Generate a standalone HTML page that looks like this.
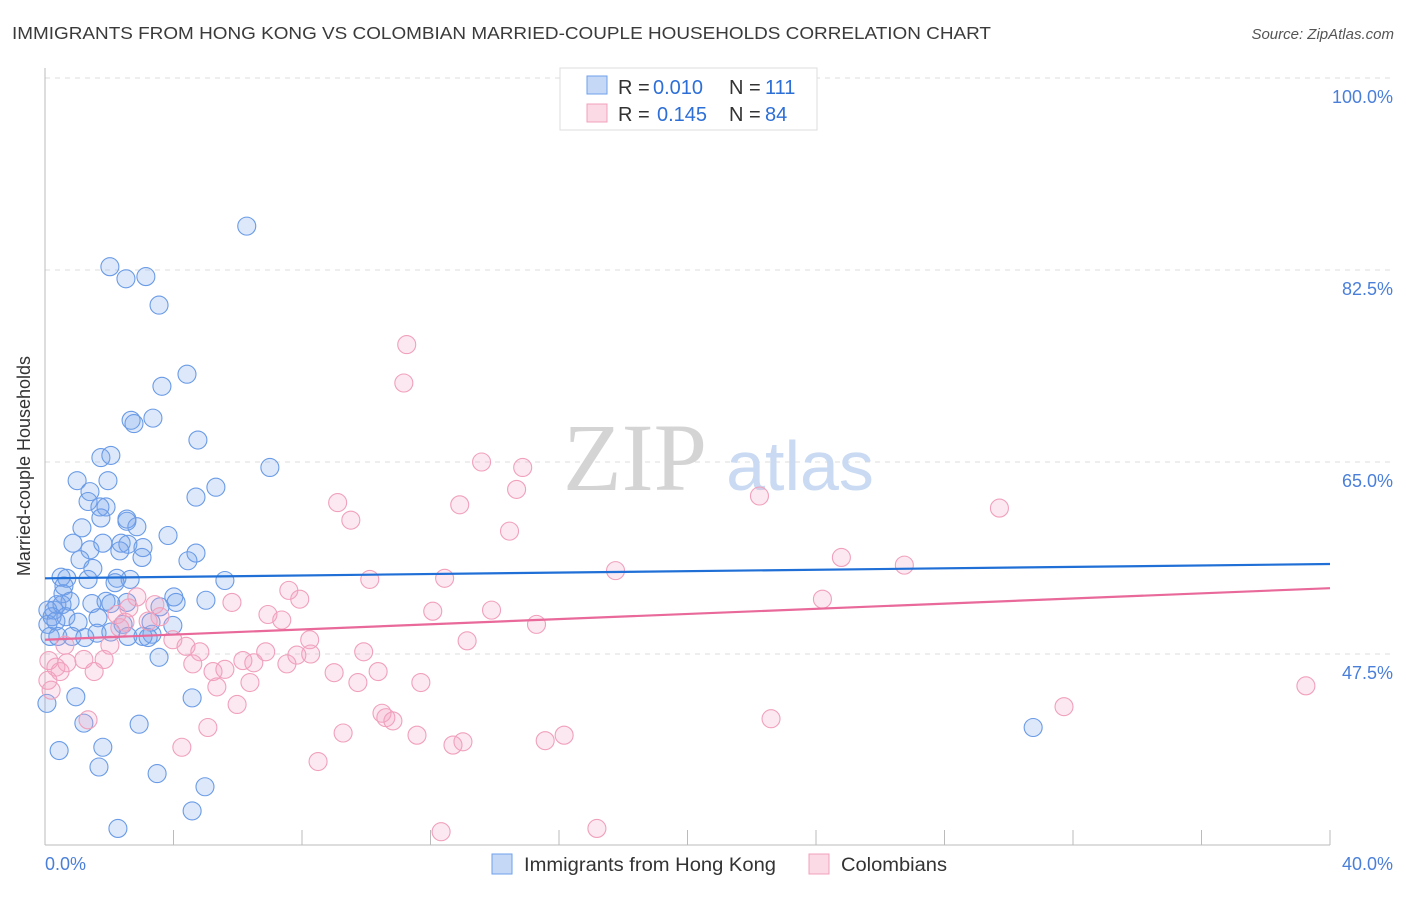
<!DOCTYPE html>
<html><head><meta charset="utf-8"><style>
body{margin:0;background:#fff;font-family:"Liberation Sans",sans-serif;}
</style></head><body>
<svg id="chart" width="1406" height="892" xmlns="http://www.w3.org/2000/svg" style="font-family:'Liberation Sans',sans-serif">
<text x="12" y="39" font-size="17.5" fill="#3a3a3a" textLength="979" lengthAdjust="spacingAndGlyphs">IMMIGRANTS FROM HONG KONG VS COLOMBIAN MARRIED-COUPLE HOUSEHOLDS CORRELATION CHART</text>
<text x="1394" y="39" font-size="15" fill="#555" font-style="italic" text-anchor="end">Source: ZipAtlas.com</text>
<g id="grid"></g>
<g>
<text x="635" y="490" font-size="96" fill="#d4d4d4" font-family="Liberation Serif,serif" text-anchor="middle">ZIP</text>
<text x="800" y="490" font-size="70" fill="#c9daf2" text-anchor="middle">atlas</text>
</g>
<line x1="45" y1="68" x2="45" y2="845" stroke="#bbb"/>
<line x1="45" y1="845" x2="1330" y2="845" stroke="#bbb"/>
<g id="ticks"></g>
<g id="pts"></g>
<g id="lines"></g>
<text x="22" y="458" font-size="18" fill="#333" text-anchor="middle" transform="rotate(-90 30 458)">Married-couple Households</text>
<text x="45" y="870" font-size="18" fill="#4a7fd9">0.0%</text>
<text x="1393" y="870" font-size="18" fill="#4a7fd9" text-anchor="end">40.0%</text>
<g>
<rect x="560" y="68" width="257" height="62" fill="#fff" stroke="#ddd"/>
<rect x="587" y="76" width="20" height="18" fill="rgba(110,160,235,0.4)" stroke="#6e9fe8"/>
<rect x="587" y="104" width="20" height="18" fill="rgba(245,160,190,0.4)" stroke="#f0a0bc"/>
<text x="618" y="94" font-size="20" fill="#333">R =</text>
<text x="653" y="94" font-size="20" fill="#2d6fd6">0.010</text>
<text x="729" y="94" font-size="20" fill="#333">N =</text>
<text x="765" y="94" font-size="20" fill="#2d6fd6">111</text>
<text x="618" y="121" font-size="20" fill="#333">R =</text>
<text x="657" y="121" font-size="20" fill="#2d6fd6">0.145</text>
<text x="729" y="121" font-size="20" fill="#333">N =</text>
<text x="765" y="121" font-size="20" fill="#2d6fd6">84</text>
</g>
<g>
<rect x="492" y="854" width="20" height="20" fill="rgba(110,160,235,0.4)" stroke="#6e9fe8"/>
<text x="524" y="871" font-size="19" fill="#333" textLength="252" lengthAdjust="spacingAndGlyphs">Immigrants from Hong Kong</text>
<rect x="809" y="854" width="20" height="20" fill="rgba(245,160,190,0.4)" stroke="#f0a0bc"/>
<text x="841" y="871" font-size="19" fill="#333" textLength="106" lengthAdjust="spacingAndGlyphs">Colombians</text>
</g>
</svg>
<script>
const yTicks=[100,82.5,65,47.5];
const yTickLabels=["100.0%","82.5%","65.0%","47.5%"];
const xTicks=[0,4,8,12,16,20,24,28,32,36,40];
const blueX=[6.28,2.02,2.52,3.14,3.55,4.42,3.64,2.68,2.77,3.36,4.76,7.00,1.74,2.05,1.00,1.96,1.40,1.34,1.90,1.71,4.70,5.32,1.15,1.74,2.55,2.86,3.83,0.87,1.40,1.80,2.37,2.58,3.05,3.02,4.70,4.45,1.09,1.49,0.68,0.50,1.34,2.24,2.65,5.60,2.18,0.56,0.59,0.78,1.46,1.90,2.05,2.55,4.01,4.08,5.01,0.28,0.37,0.53,0.09,0.22,0.65,1.03,1.65,2.43,3.30,3.98,0.09,0.34,0.16,0.40,0.84,1.24,1.62,2.05,2.58,3.05,3.33,3.21,3.55,4.58,0.96,1.21,2.93,0.44,1.80,1.68,3.49,4.98,4.58,2.27,0.06,30.76,2.55,3.58,2.33];
const blueY=[86.5,82.8,81.7,81.9,79.3,73.0,71.9,68.8,68.5,69.0,67.0,64.5,65.4,65.6,63.3,63.3,62.3,61.4,60.9,60.9,61.8,62.7,59.0,59.9,59.8,59.1,58.3,57.6,57.0,57.6,57.6,57.5,57.2,56.3,56.7,56.0,56.1,55.3,54.4,54.5,54.3,54.4,54.3,54.2,54.0,53.0,53.7,52.3,52.1,52.3,52.1,52.2,52.7,52.2,52.4,51.5,52.0,52.0,51.5,50.9,50.9,50.4,50.8,50.2,50.4,50.1,50.2,50.5,49.1,49.1,49.1,49.0,49.4,49.5,49.1,49.1,49.3,49.0,47.2,43.5,43.6,41.2,41.1,38.7,39.0,37.2,36.6,35.4,33.2,31.6,43.0,40.8,59.6,51.8,56.9];
const pinkX=[11.26,11.17,13.59,14.87,14.68,12.91,9.11,9.52,14.46,22.24,29.71,24.79,26.75,17.76,10.11,12.44,7.59,7.93,5.82,6.94,7.37,12.07,13.90,15.30,24.20,2.86,3.42,3.58,2.24,2.61,2.49,3.98,4.39,4.82,8.24,8.27,7.84,6.87,9.92,7.53,4.60,5.23,5.60,6.16,6.50,5.35,6.38,9.00,9.74,10.37,11.70,13.14,5.98,10.49,10.61,10.83,11.58,13.01,12.70,15.57,16.16,22.60,31.72,39.25,9.28,8.50,4.26,5.07,1.34,12.33,17.18,0.12,0.34,0.47,0.09,0.68,1.21,1.84,1.53,0.19,0.62,2.02,2.33,3.21];
const pinkY=[75.7,72.2,65.0,64.5,62.5,61.1,61.3,59.7,58.7,61.9,60.8,56.3,55.6,55.1,54.3,54.4,53.3,52.5,52.2,51.1,50.6,51.4,51.5,50.2,52.5,52.7,52.0,50.9,51.1,51.7,50.4,48.8,48.2,47.7,48.8,47.5,47.4,47.7,47.7,46.6,46.6,45.9,46.1,46.9,46.7,44.5,44.9,45.8,44.9,45.9,44.9,48.7,42.9,42.1,41.7,41.4,40.1,39.5,39.2,39.6,40.1,41.6,42.7,44.6,40.3,37.7,39.0,40.8,41.5,31.3,31.6,46.9,46.3,45.9,45.1,46.7,47.0,47.0,45.9,44.2,48.3,48.3,49.9,50.5];
const blueTrend=[54.4,55.7];
const pinkTrend=[48.8,53.5];
const NS="http://www.w3.org/2000/svg";
function xs(v){return 45+v/40*1285;}
function ys(v){return 78+(100-v)/17.5*192;}
function mk(t,a,p){const e=document.createElementNS(NS,t);for(const k in a)e.setAttribute(k,a[k]);p.appendChild(e);return e;}
const grid=document.getElementById('grid');
yTicks.forEach((t,i)=>{
 const l=mk('line',{x1:45,x2:1393,y1:ys(t),y2:ys(t),stroke:'#ddd','stroke-dasharray':'5,5'},grid);
 
 
 const tx=mk('text',{x:1393,y:ys(t)+25,'font-size':18,fill:'#4a7fd9','text-anchor':'end'},grid);
 tx.textContent=yTickLabels[i];
 
 
});
const tk=document.getElementById('ticks');
xTicks.forEach(t=>{
 const l=mk('line',{x1:xs(t),x2:xs(t),y1:830,y2:845,stroke:'#bbb'},tk);
 
 
});
const pts=document.getElementById('pts');
blueX.forEach((x,i)=>{
 const c=mk('circle',{cx:xs(x),cy:ys(blueY[i]),r:9,fill:'rgba(120,165,235,0.25)',stroke:'#6a9be6','stroke-width':1.1},pts);
 
 
});
pinkX.forEach((x,i)=>{
 const c=mk('circle',{cx:xs(x),cy:ys(pinkY[i]),r:9,fill:'rgba(245,165,195,0.25)',stroke:'#f0a0bc','stroke-width':1.1},pts);
 
 
});
const lines=document.getElementById('lines');
const bl=mk('line',{x1:xs(0),x2:xs(40),y1:ys(blueTrend[0]),y2:ys(blueTrend[1]),stroke:'#1f6fd6','stroke-width':2.2},lines);


const pl=mk('line',{x1:xs(0),x2:xs(40),y1:ys(pinkTrend[0]),y2:ys(pinkTrend[1]),stroke:'#e8699a','stroke-width':2.2},lines);


</script>
</body></html>
